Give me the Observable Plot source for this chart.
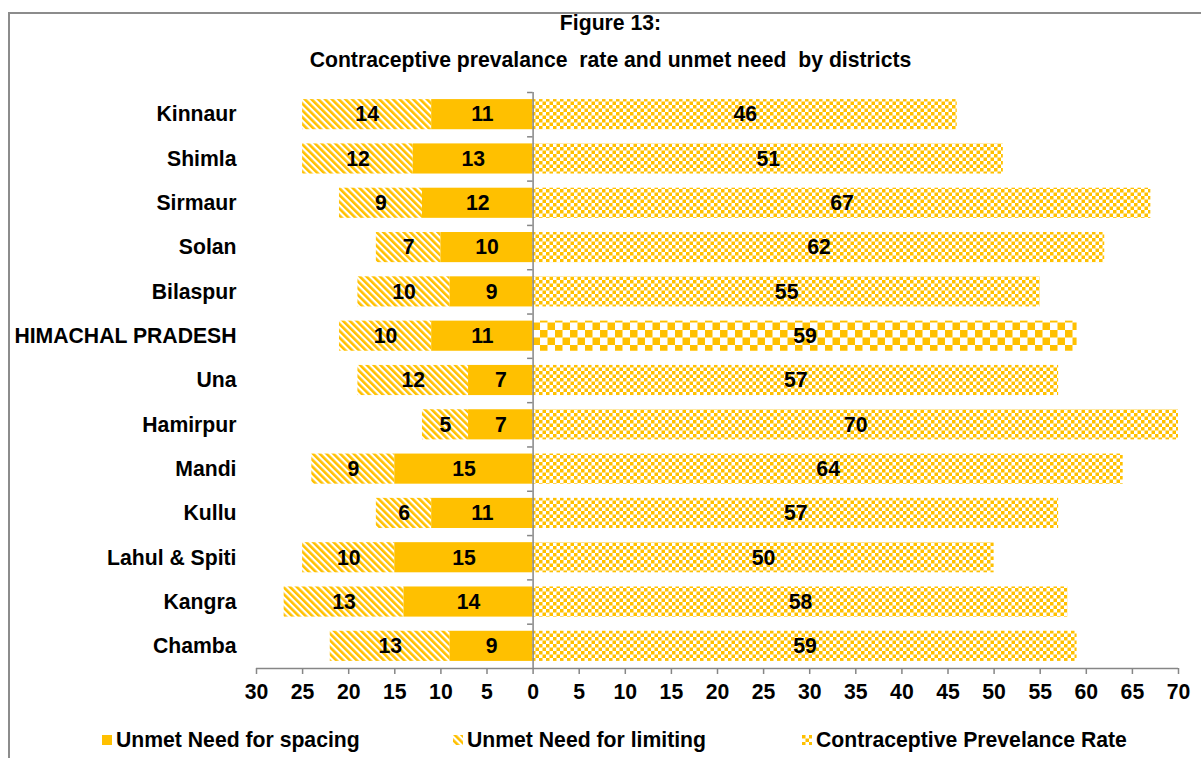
<!DOCTYPE html>
<html>
<head>
<meta charset="utf-8">
<script src="https://cdn.jsdelivr.net/npm/d3@7"></script>
<script src="https://cdn.jsdelivr.net/npm/@observablehq/plot@0.6"></script>
<style>
  html, body { margin: 0; padding: 0; background: #fff; }
  body { width: 1201px; height: 758px; position: relative; overflow: hidden;
         font-family: "Liberation Sans", Arial, sans-serif; font-weight: bold; color: #000; }
  #frame { position: absolute; left: 8px; top: 12px; width: 1200px; height: 760px;
           border: 2px solid #8c8c8c; box-sizing: border-box; }
  #chart { position: absolute; left: 0; top: 0; }
  .title { position: absolute; left: 0; width: 1221px; text-align: center; font-size: 21.2px; line-height: 1; }
  #legend { position: absolute; top: 729px; left: 0; width: 1201px; height: 22px; font-size: 21.2px; }
  .item { position: absolute; top: 0; height: 22px; line-height: 22px; white-space: nowrap; }
  .item svg { position: absolute; top: 6px; }
  .item span { position: absolute; top: 0; }
</style>
</head>
<body>
<div id="frame"></div>
<div id="chart"></div>
<div class="title" style="top:12px">Figure 13:</div>
<div class="title" style="top:49px">Contraceptive prevalance&nbsp; rate and unmet need&nbsp; by districts</div>
<div id="legend"></div>
<script>
// Districts, top to bottom
const districts = ["Kinnaur", "Shimla", "Sirmaur", "Solan", "Bilaspur", "HIMACHAL PRADESH",
  "Una", "Hamirpur", "Mandi", "Kullu", "Lahul & Spiti", "Kangra", "Chamba"];
// Unmet need for spacing (%)
const spacing = [11, 13, 12, 10, 9, 11, 7, 7, 15, 11, 15, 14, 9];
// Unmet need for limiting (%)
const limiting = [14, 12, 9, 7, 10, 10, 12, 5, 9, 6, 10, 13, 13];
// Contraceptive prevalence rate (%)
const cpr = [46, 51, 67, 62, 55, 59, 57, 70, 64, 57, 50, 58, 59];
// Axis ticks
const xTicks = [-30, -25, -20, -15, -10, -5, 0, 5, 10, 15, 20, 25, 30, 35, 40, 45, 50, 55, 60, 65, 70];
const stateName = "HIMACHAL PRADESH";

const rows = districts.map((d, i) => ({
  district: d, spacing: spacing[i], limiting: limiting[i], cpr: cpr[i]
}));

const gold = "#FFC000";
const grey = "#868686";
const W = 1201, H = 710, mt = 92, mb = 42, ml = 256, mr = 23;
const step = (H - mt - mb) / districts.length;

const plot = Plot.plot({
  width: W, height: H,
  marginTop: mt, marginBottom: mb, marginLeft: ml, marginRight: mr,
  style: { fontFamily: "'Liberation Sans', Arial, sans-serif", fontWeight: "bold", fontSize: "21.2px", color: "#000", background: "transparent", overflow: "visible" },
  x: { domain: [-30, 70], ticks: xTicks, tickFormat: d => Math.abs(d) },
  y: { domain: districts, paddingInner: 0.32, paddingOuter: 0.16, round: false },
  marks: [
    // unmet need for limiting, stacked beyond spacing on the left
    Plot.barX(rows, { y: "district", x1: d => -d.spacing, x2: d => -(d.spacing + d.limiting), fill: "url(#stripes)" }),
    // unmet need for spacing, solid, next to zero
    Plot.barX(rows, { y: "district", x1: 0, x2: d => -d.spacing, fill: gold }),
    // contraceptive prevalence on the right; the state total gets a coarser checker
    Plot.barX(rows.filter(d => d.district !== stateName), { y: "district", x1: 0, x2: "cpr", fill: "url(#checkSmall)" }),
    Plot.barX(rows.filter(d => d.district === stateName), { y: "district", x1: 0, x2: "cpr", fill: "url(#checkLarge)" }),
    // value labels
    Plot.text(rows, { y: "district", x: d => -(d.spacing + d.limiting / 2), text: d => String(d.limiting), fill: "#000" }),
    Plot.text(rows, { y: "district", x: d => -d.spacing / 2, text: d => String(d.spacing), fill: "#000" }),
    Plot.text(rows, { y: "district", x: d => d.cpr / 2, text: d => String(d.cpr), fill: "#000" }),
    // category axis at zero with tick marks on band boundaries
    Plot.ruleX([0], { stroke: grey, strokeWidth: 1.5 }),
    Plot.ruleY(districts, { y: d => d, x1: -0.6, x2: 0, dy: -step / 2, stroke: grey, strokeWidth: 1.5 }),
    // value axis line along the bottom
    Plot.ruleY([districts[districts.length - 1]], { y: d => d, x1: -30, x2: 70, dy: step / 2, stroke: grey, strokeWidth: 1.5 }),
    Plot.axisX({ anchor: "bottom", ticks: xTicks, tickFormat: d => Math.abs(d), tickSize: 6, tickPadding: 9, stroke: grey, strokeWidth: 1.5, fill: "#000", label: null }),
    Plot.axisY({ anchor: "left", tickSize: 0, tickPadding: 20, fill: "#000", label: null })
  ]
});

// Fill patterns used by the bars and the legend swatches
const defs = d3.select(plot).insert("defs", ":first-child");
const stripes = defs.append("pattern").attr("id", "stripes").attr("patternUnits", "userSpaceOnUse")
  .attr("width", 4.8).attr("height", 4.8).attr("patternTransform", "rotate(-45)");
stripes.append("rect").attr("width", 4.8).attr("height", 4.8).attr("fill", "#fff");
stripes.append("rect").attr("width", 2.6).attr("height", 4.8).attr("fill", gold);

function checker(id, size) {
  const p = defs.append("pattern").attr("id", id).attr("patternUnits", "userSpaceOnUse")
    .attr("width", size * 2).attr("height", size * 2);
  p.append("rect").attr("width", size * 2).attr("height", size * 2).attr("fill", "#fff");
  p.append("rect").attr("width", size).attr("height", size).attr("fill", gold);
  p.append("rect").attr("x", size).attr("y", size).attr("width", size).attr("height", size).attr("fill", gold);
}
checker("checkSmall", 3.5);
checker("checkLarge", 7.5);

document.getElementById("chart").appendChild(plot);

// Legend
const legendItems = [
  { label: "Unmet Need for spacing", fill: gold, x: 102 },
  { label: "Unmet Need for limiting", fill: "url(#stripes)", x: 453 },
  { label: "Contraceptive Prevelance Rate", fill: "url(#checkSmall)", x: 802 }
];
const legend = d3.select("#legend");
for (const it of legendItems) {
  const item = legend.append("div").attr("class", "item").style("left", it.x + "px");
  item.append("svg").attr("width", 10).attr("height", 10)
    .append("rect").attr("width", 10).attr("height", 10).attr("fill", it.fill);
  item.append("span").style("left", "14px").text(it.label);
}
</script>
</body>
</html>
